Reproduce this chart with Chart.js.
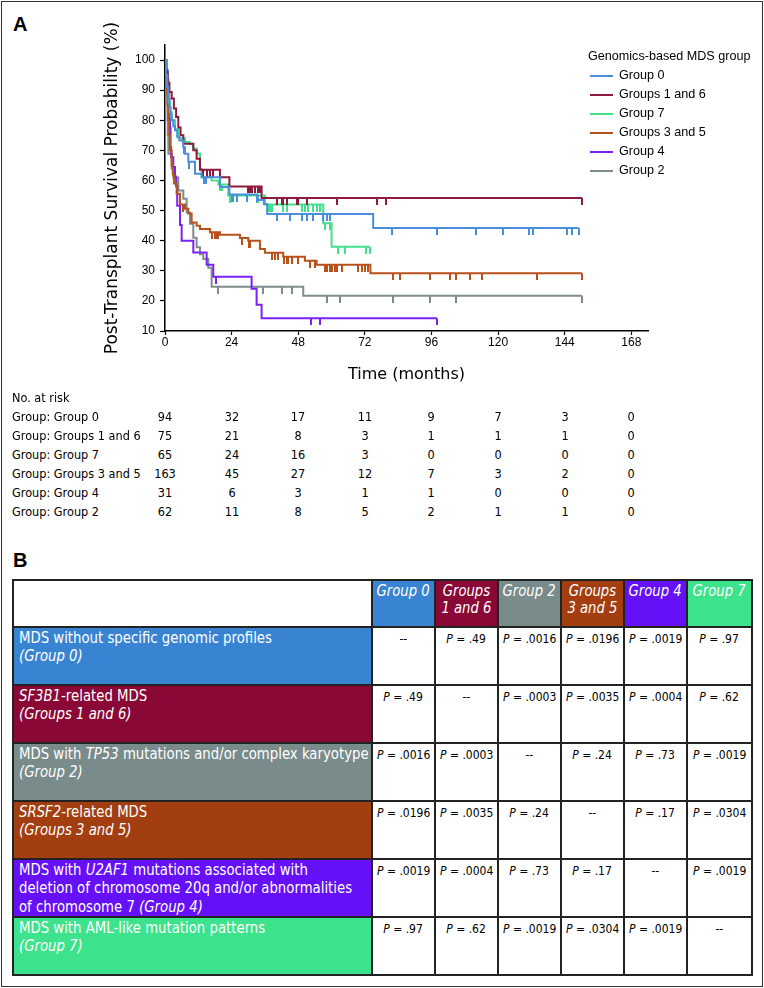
<!DOCTYPE html>
<html>
<head>
<meta charset="utf-8">
<script src="https://cdn.jsdelivr.net/npm/chart.js@4.4.0/dist/chart.umd.min.js"></script>
<style>
  body { margin: 0; background: #fff; }
  #page { position: relative; width: 764px; height: 988px; overflow: hidden; color: #000;
          font-family: 'DejaVu Sans', sans-serif; }
  #frame { position: absolute; left: 1px; top: 1px; width: 760px; height: 984px; border: 1px solid #333; }
  .panel { position: absolute; left: 13px; font-family: 'Liberation Sans', Arial, sans-serif;
           font-weight: bold; font-size: 20px; line-height: 20px; }
  #chartBox { position: absolute; left: 0; top: 0; width: 764px; height: 390px; }
  #legend { position: absolute; left: 588px; top: 47px; font-family: 'Liberation Sans', Arial, sans-serif;
            font-size: 12.6px; line-height: 19px; }
  #legend .item { display: flex; align-items: center; }
  #legend .swatch { width: 23px; height: 2px; margin-left: 2px; margin-right: 6px; }
  #risk { position: absolute; left: 0; top: 0; font-size: 13px; line-height: 19px; }
  #risk div { position: absolute; white-space: nowrap; transform: scaleX(0.87); transform-origin: 0 0; }
  #risk div.num { transform-origin: 50% 0; }
  #tableB { position: absolute; left: 12px; top: 579px; width: 739px; border-collapse: collapse; table-layout: fixed; }
  #tableB td { border: 2px solid #222; padding: 0; vertical-align: top; overflow: hidden; }
  #tableB .head td { height: 43px; color: #fff; font-style: italic; font-size: 15px; line-height: 17px;
                     text-align: center; padding-top: 2px; }
  #tableB .lab { color: #fff; font-size: 15px; line-height: 18.3px; padding: 1px 0 0 5px; height: 55px; }
  #tableB .pv { text-align: center; font-size: 12px; padding-top: 4px; }
  .cx { display: inline-block; white-space: nowrap; transform: scaleX(0.885); transform-origin: 0 0; }
  .cc { display: inline-block; white-space: nowrap; transform: scaleX(0.88); transform-origin: 50% 0; }
  .cp { display: inline-block; white-space: nowrap; transform: scaleX(0.9); transform-origin: 50% 0; }
</style>
</head>
<body>
<div id="page">
  <div id="frame"></div>
  <div class="panel" style="top:14px">A</div>
  <div class="panel" style="top:550px">B</div>
  <div id="chartBox"><canvas id="kmChart" width="764" height="390"></canvas></div>
  <div id="legend"></div>
  <div id="risk"></div>
  <table id="tableB"></table>
</div>
<script>
// Kaplan-Meier curves, [month, survival %]
const groupNames = ['Group 0', 'Groups 1 and 6', 'Group 7', 'Groups 3 and 5', 'Group 4', 'Group 2'];
const lineColors = ['#4a8fdc', '#8e1a3d', '#43e08c', '#b8521c', '#7a22f5', '#7f8c8c'];

const stepsGroup0 = [[0,100],[0.4,95],[0.8,91],[1.2,87],[1.6,84.4],[2.0,82],[2.4,80],[3.0,78],[3.6,76.7],[4.4,74.5],
  [5.2,73.3],[6.6,71],[7.2,68.9],[8.4,66.2],[10.8,62.2],[13.2,61.1],[19.8,57.8],[23.2,55.3],[33.4,53.5],[35.6,52.2],
  [36.8,48.9],[75,44.2],[149,44.2]];
const stepsGroups16 = [[0,100],[0.5,96],[1.0,92.5],[1.6,89.4],[2.4,87.2],[3.2,83.9],[4.0,81.1],[4.8,77.6],[5.6,75],
  [6.6,72.2],[10.2,70],[11.4,67.2],[12.6,63.6],[19.8,61.1],[23.2,58],[34.8,54.2],[150.2,54.2]];
const stepsGroup7 = [[0,100],[0.4,96],[0.9,91],[1.4,86],[1.8,82.8],[2.4,80],[3.6,77],[4.8,74],[7.2,72.8],[9.0,72],
  [10.2,70.6],[11.4,69],[12.6,63.9],[13.2,61.1],[16.8,60],[19.2,58.7],[22.8,55],[36,52],[57,45.8],[60,38],[73.7,38]];
const stepsGroups35 = [[0,100],[0.3,95],[0.6,90],[0.9,85],[1.2,80],[1.5,75],[1.8,70],[2.4,65],[2.8,62],[3.2,59],
  [4.2,55.6],[5.4,52],[7.2,50.6],[8.4,49],[9.6,46],[11.4,45],[12.6,43.9],[16.2,42.8],[19.8,42],[27,40.9],[30,40],
  [34.2,37.2],[36,36],[42.6,34.7],[50.4,33.3],[54.6,32],[74,29.2],[150.2,29.2]];
const stepsGroup4 = [[0,100],[0.5,96.8],[0.9,93.5],[1.2,90.3],[1.4,87.1],[1.6,80.6],[1.8,77.4],[2.0,71],[2.2,67.7],
  [3.0,64.5],[3.6,61.3],[4.0,58.1],[4.4,51.6],[5.4,45.2],[6.0,40],[10.2,36.1],[15,32],[17.4,28],[31.2,24],[33,18.7],
  [34.8,14.2],[98,14.2]];
const stepsGroup2 = [[0,100],[0.3,95],[0.6,88],[0.9,80],[1.0,75],[1.2,68.9],[2.4,64],[3,61],[4.8,56.7],[6.6,53.9],
  [7.8,49.4],[9,45.6],[10.2,41],[11.4,37.8],[12.6,35.5],[13.8,33.9],[15.6,31],[16.8,24.7],[49.8,21.7],[150.2,21.7]];

// censored times (months)
const censorGroup0 = [6.8,8.6,14,14.6,24,24.6,25.8,29.4,33,40.2,45,49.2,51,53.4,57,58.2,59.4,81.9,98.1,112.1,121.7,
  131,132.5,144.7,146.6,149];
const censorGroups16 = [13.8,15,16.2,17.4,30,30.6,31.2,32.4,33.6,34.2,40.2,42,42.6,43.8,47.4,48,51,61.8,76.4,79.5,150.2];
const censorGroup7 = [19.8,20.4,23.4,33,33.6,37.2,37.8,38.4,42.6,43.8,49.2,50.4,51.6,53.4,54.6,55.8,57.6,59.4,62.4,
  64.8,72.5,73.7];
const censorGroups35 = [6.6,16.8,18,18.6,19.2,27.6,30.3,30.6,38.4,39.6,40.8,42.9,43.8,44.4,45.6,48,52.2,54,57.6,58.2,
  59.4,60,61.2,61.8,63.6,69.6,70.8,72,73.2,82.1,84.5,95.6,102.5,104.9,110,114.3,134,150.2];
const censorGroup4 = [18.2,52.6,55.8,98];
const censorGroup2 = [19.2,35.4,42,45.6,58.2,63,82.1,95.4,105,150.2];

const xTickValues = [0, 24, 48, 72, 96, 120, 144, 168];
const yTickValues = [10, 15, 20, 25, 30, 35, 40, 45, 50, 55, 60, 65, 70, 75, 80, 85, 90, 95, 100];

// number at risk, same order as xTickValues
const riskGroupNames = ['Group 0', 'Groups 1 and 6', 'Group 7', 'Groups 3 and 5', 'Group 4', 'Group 2'];
const atRiskGroup0 = [94, 32, 17, 11, 9, 7, 3, 0];
const atRiskGroups16 = [75, 21, 8, 3, 1, 1, 1, 0];
const atRiskGroup7 = [65, 24, 16, 3, 0, 0, 0, 0];
const atRiskGroups35 = [163, 45, 27, 12, 7, 3, 2, 0];
const atRiskGroup4 = [31, 6, 3, 1, 1, 0, 0, 0];
const atRiskGroup2 = [62, 11, 8, 5, 2, 1, 1, 0];

// pairwise P values (panel B)
const tableGroups = ['Group 0', 'Groups<br>1 and 6', 'Group 2', 'Groups<br>3 and 5', 'Group 4', 'Group 7'];
const tableColors = ['#3984d2', '#8a0835', '#7a8b8b', '#a23e0f', '#6510f7', '#3de28c'];
const rowLabels = [
  'MDS without specific genomic profiles<br><i>(Group 0)</i>',
  '<i>SF3B1</i>-related MDS<br><i>(Groups 1 and 6)</i>',
  'MDS with <i>TP53</i> mutations and/or complex karyotype<br><i>(Group 2)</i>',
  '<i>SRSF2</i>-related MDS<br><i>(Groups 3 and 5)</i>',
  'MDS with <i>U2AF1</i> mutations associated with<br>deletion of chromosome 20q and/or abnormalities<br>of chromosome 7 <i>(Group 4)</i>',
  'MDS with AML-like mutation patterns<br><i>(Group 7)</i>'
];
const pRowGroup0 = ['--', '.49', '.0016', '.0196', '.0019', '.97'];
const pRowGroups16 = ['.49', '--', '.0003', '.0035', '.0004', '.62'];
const pRowGroup2 = ['.0016', '.0003', '--', '.24', '.73', '.0019'];
const pRowGroups35 = ['.0196', '.0035', '.24', '--', '.17', '.0304'];
const pRowGroup4 = ['.0019', '.0004', '.73', '.17', '--', '.0019'];
const pRowGroup7 = ['.97', '.62', '.0019', '.0304', '.0019', '--'];

const allSteps = [stepsGroup0, stepsGroups16, stepsGroup7, stepsGroups35, stepsGroup4, stepsGroup2];
const allCensor = [censorGroup0, censorGroups16, censorGroup7, censorGroups35, censorGroup4, censorGroup2];
const allRisk = [atRiskGroup0, atRiskGroups16, atRiskGroup7, atRiskGroups35, atRiskGroup4, atRiskGroup2];
const allP = [pRowGroup0, pRowGroups16, pRowGroup2, pRowGroups35, pRowGroup4, pRowGroup7];

const narrow = "'DejaVu Sans', sans-serif";
const regular = "'Liberation Sans', Arial, sans-serif";

// survival at time t from the step function
function survAt(steps, t) {
    let s = steps[0][1];
    for (const [m, v] of steps) {
        if (m <= t) s = v;
    }
    return s;
}

// small tick mark that hangs below the curve
function censorMark(color) {
    const c = document.createElement('canvas');
    c.width = 2;
    c.height = 14;
    const ctx = c.getContext('2d');
    ctx.fillStyle = color;
    ctx.fillRect(0, 7, 2, 7);
    return c;
}

const datasets = [];
groupNames.forEach((name, i) => {
    datasets.push({
        label: name,
        data: allSteps[i].map(([x, y]) => ({ x, y })),
        borderColor: lineColors[i],
        borderWidth: 2,
        stepped: 'before',
        pointRadius: 0,
        fill: false
    });
    datasets.push({
        label: name + ' censored',
        data: allCensor[i].map(t => ({ x: t, y: survAt(allSteps[i], t) })),
        showLine: false,
        pointStyle: censorMark(lineColors[i]),
        pointRadius: 5
    });
});

const kmChart = new Chart(document.getElementById('kmChart'), {
    type: 'line',
    data: { datasets },
    options: {
        responsive: false,
        animation: false,
        layout: { padding: { left: 99, right: 116, top: 45, bottom: 0 } },
        plugins: { legend: { display: false }, tooltip: { enabled: false } },
        scales: {
            x: {
                type: 'linear', min: 0, max: 174,
                afterBuildTicks: s => { s.ticks = xTickValues.map(v => ({ value: v })); },
                afterFit: s => { s.height = 59; },
                grid: { drawOnChartArea: false, tickLength: 4, color: '#000', tickWidth: 1.2 },
                border: { color: '#000', width: 1.5 },
                ticks: { color: '#000', font: { family: regular, size: 12 }, padding: 0, maxRotation: 0 },
                title: { display: true, text: 'Time (months)', color: '#000',
                         font: { family: narrow, size: 16 }, padding: { top: 0, bottom: 6 } }
            },
            y: {
                min: 10, max: 105,
                afterBuildTicks: s => { s.ticks = yTickValues.map(v => ({ value: v })); },
                afterFit: s => { s.width = 66; },
                grid: { drawOnChartArea: false, tickLength: 5, color: '#000', tickWidth: 1.2 },
                border: { color: '#000', width: 1.5 },
                ticks: { color: '#000', font: { family: regular, size: 12 }, padding: 5,
                         callback: v => (v % 10 === 0 ? v : '') },
                title: { display: true, text: 'Post-Transplant Survival Probability (%)', color: '#000',
                         font: { family: narrow, size: 17 }, padding: { top: 3, bottom: 0 } }
            }
        }
    }
});

// legend
const legend = document.getElementById('legend');
legend.innerHTML = '<div>Genomics-based MDS group</div>' + groupNames.map((n, i) =>
    `<div class="item"><span class="swatch" style="background:${lineColors[i]}"></span>${n}</div>`).join('');

// number at risk, columns placed on the chart's x scale
const risk = document.getElementById('risk');
const xs = kmChart.scales.x;
let html = '<div style="left:12px;top:388px">No. at risk</div>';
riskGroupNames.forEach((n, r) => {
    const top = 407 + r * 19;
    html += `<div style="left:12px;top:${top}px">Group: ${n}</div>`;
    allRisk[r].forEach((v, k) => {
        const cx = xs.getPixelForValue(xTickValues[k]);
        html += `<div class="num" style="left:${cx - 20}px;width:40px;text-align:center;top:${top}px">${v}</div>`;
    });
});
risk.innerHTML = html;

// panel B table
const table = document.getElementById('tableB');
const colWidths = [359, 63, 63, 63, 63, 63, 65];
let t = '<colgroup>' + colWidths.map(w => `<col style="width:${w}px">`).join('') + '</colgroup>';
t += '<tr class="head"><td style="background:#fff"></td>' +
    tableGroups.map((g, i) => `<td style="background:${tableColors[i]}"><span class="cc">${g}</span></td>`).join('') + '</tr>';
rowLabels.forEach((lab, r) => {
    t += `<tr><td class="lab" style="background:${tableColors[r]}"><span class="cx">${lab}</span></td>` +
        allP[r].map(p => `<td class="pv"><span class="cp">${p === '--' ? '--' : '<i>P</i> = ' + p}</span></td>`).join('') + '</tr>';
});
table.innerHTML = t;
</script>
</body>
</html>
